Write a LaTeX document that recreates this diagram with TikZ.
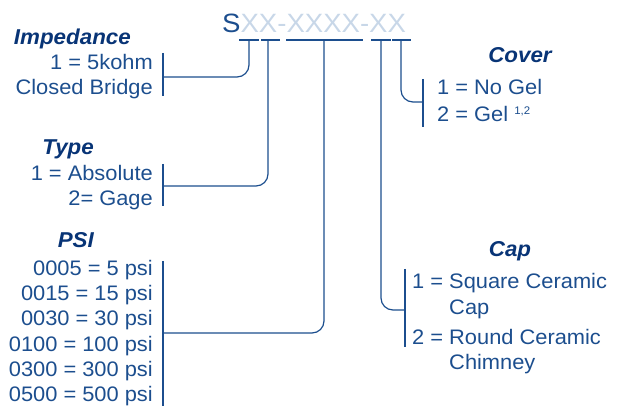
\documentclass[tikz,border=0pt]{standalone}
\usepackage{fontspec}
\setmainfont[FakeStretch=1.04]{Liberation Sans}
\usepackage{tikz}
\usetikzlibrary{calc,positioning}
\definecolor{codeblue}{RGB}{28,78,142}
\definecolor{headblue}{RGB}{8,52,118}
\definecolor{paleblue}{RGB}{200,215,232}

\begin{document}
\begin{tikzpicture}[x=1pt,y=-1pt]

\tikzset{entry/.style={font=\fontsize{21}{25}\selectfont,text=codeblue,inner sep=0pt},
heading/.style={font=\fontsize{21.5}{26}\selectfont\bfseries\itshape,text=headblue,inner sep=0pt},
link/.style={draw=codeblue,line width=1.2pt,rounded corners=12pt},
bracket/.style={draw=codeblue,line width=1.2pt}}

\useasboundingbox (0,0) rectangle (630,406);

% Part number
\node[inner sep=0pt,anchor=base west,font=\fontsize{26.5}{30}\selectfont,text=codeblue] (pn) at (222,33) {S\textcolor{paleblue}{XX-XXXX-XX}};

% Ticks under the part number
\foreach \name/\a/\b/\s in {imp/239/259/249, typ/261/280/268, psi/286/363/324, cap/371/391/381, cov/392/411/401} {
  \draw[bracket] (\a,40) -- (\b,40);
  \coordinate (\name) at (\s,40);
}

% Bracket joints
\coordinate (impJ) at (163,77); \coordinate (typJ) at (163,186);
\coordinate (psiJ) at (163,333); \coordinate (covJ) at (423,102);
\coordinate (capJ) at (405,310);

% Impedance
\node[heading,anchor=base east] (impH) at (131,45) {Impedance};
\node[entry,anchor=base east] (imp1) at (153,70) {1 = 5kohm};
\node[entry,anchor=base east] (imp2) at (153,95) {Closed Bridge};

% Type
\node[heading,anchor=base east] (typH) at (94,155) {Type};
\node[entry,anchor=base east] (typ1) at (153,181) {1 = Absolute};
\node[entry,anchor=base east] (typ2) at (153,206) {2= Gage};

% PSI
\node[heading,anchor=base east] (psiH) at (94,248) {PSI};
\foreach \v/\p [count=\i] in {0005/5,0015/15,0030/30,0100/100,0300/300,0500/500}
  \node[entry,anchor=base east] (psi\i) at (153,{250+25.3*\i}) {\v{} = \p{} psi};

% Cover
\node[heading,anchor=base] (covH) at (520,63) {Cover};
\node[entry,anchor=base west] (cov1) at (437,95) {1 = No Gel};
\node[entry,anchor=base west] (cov2) at (437,122) {2 = Gel {\fontsize{11}{11}\selectfont\raisebox{7pt}{1,2}}};

% Cap
\node[heading,anchor=base] (capH) at (510,257) {Cap};
\node[entry,anchor=base west] (cap1) at (412,289) {1 = Square Ceramic};
\node[entry,anchor=base west] (cap2) at (412,315) {\phantom{1 = }Cap};
\node[entry,anchor=base west] (cap3) at (412,345) {2 = Round Ceramic};
\node[entry,anchor=base west] (cap4) at (412,370) {\phantom{2 = }Chimney};

% Brackets
\draw[bracket] ($(impJ)+(0,-24)$) -- ($(impJ)+(0,19)$);
\draw[bracket] ($(typJ)+(0,-22)$) -- ($(typJ)+(0,20)$);
\draw[bracket] ($(psiJ)+(0,-72)$) -- ($(psiJ)+(0,73)$);
\draw[bracket] ($(covJ)+(0,-23)$) -- ($(covJ)+(0,25)$);
\draw[bracket] ($(capJ)+(0,-41)$) -- ($(capJ)+(0,37)$);

% Connectors
\draw[link] (imp) |- (impJ); \draw[link] (typ) |- (typJ);
\draw[link] (psi) |- (psiJ); \draw[link] (cov) |- (covJ);
\draw[link] (cap) |- (capJ);

\end{tikzpicture}
\end{document}
